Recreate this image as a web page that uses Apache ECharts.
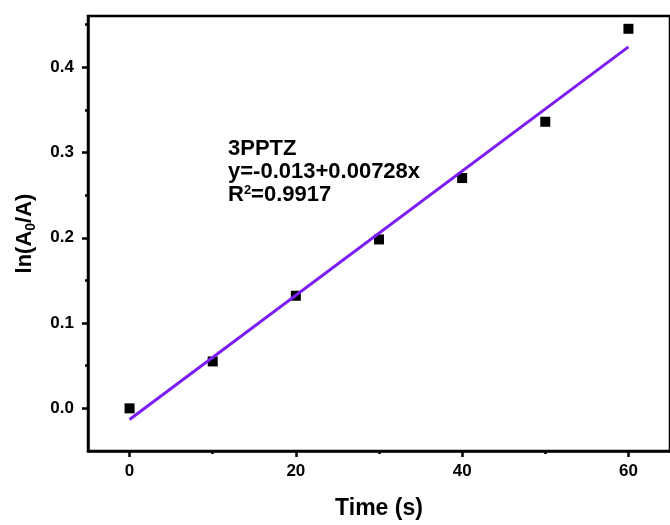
<!DOCTYPE html>
<html>
<head>
<meta charset="utf-8">
<script src="https://cdn.jsdelivr.net/npm/echarts@6/dist/echarts.min.js"></script>
<style>html,body{margin:0;padding:0;background:#fff}#c{width:670px;height:525px}</style>
</head>
<body>
<div id="c"></div>
<script>
// Data
var timeS = [0, 10, 20, 30, 40, 50, 60];
var lnA0A = [0.0, 0.055, 0.132, 0.198, 0.270, 0.336, 0.445];
// Linear fit y = -0.013 + 0.00728x, endpoints
var fitX = [0, 60];
var fitY = [-0.013, 0.4238];
// Tick values
var xMajor = [0, 20, 40, 60];
var xMinor = [10, 30, 50];
var yMajor = [0.0, 0.1, 0.2, 0.3, 0.4];
var yMinor = [0.05, 0.15, 0.25, 0.35, 0.45];
var annotLines = ['3PPTZ', 'y=-0.013+0.00728x', 'R{sup|2}=0.9917'];

var FONT = '"Liberation Sans", Arial, sans-serif';
var xMin = -5, xMax = 65, yMin = -0.05, yMax = 0.46;

var chart = echarts.init(document.getElementById('c'), null, {renderer: 'canvas'});

function pairs(xs, ys) { return xs.map(function (x, i) { return [x, ys[i]]; }); }

var axisLineStyle = {color: '#000', width: 2.5};

chart.setOption({
  animation: false,
  backgroundColor: '#fff',
  grid: {left: 88, top: 16, right: -12, bottom: 74, show: true, borderColor: '#000', borderWidth: 2.5, containLabel: false},
  xAxis: [{
    type: 'value', min: xMin, max: xMax, position: 'bottom',
    axisLine: {show: true, onZero: false, lineStyle: axisLineStyle},
    axisTick: {show: true, inside: false, length: 6, lineStyle: {color: '#000', width: 2.5}, customValues: xMajor},
    axisLabel: {show: true, customValues: xMajor, margin: 12, color: '#000', fontFamily: FONT, fontWeight: 'bold', fontSize: 17},
    splitLine: {show: false},
    name: 'Time (s)', nameLocation: 'middle', nameGap: 46,
    nameTextStyle: {color: '#000', fontFamily: FONT, fontWeight: 'bold', fontSize: 23}
  }, {
    type: 'value', min: xMin, max: xMax, position: 'bottom',
    axisLine: {show: false, onZero: false},
    axisTick: {show: true, inside: false, length: 3, lineStyle: {color: '#000', width: 2.5}, customValues: xMinor},
    axisLabel: {show: false},
    splitLine: {show: false}
  }],
  yAxis: [{
    type: 'value', min: yMin, max: yMax, position: 'left',
    axisLine: {show: true, onZero: false, lineStyle: axisLineStyle},
    axisTick: {show: true, inside: false, length: 6, lineStyle: {color: '#000', width: 2.5}, customValues: yMajor},
    axisLabel: {show: true, customValues: yMajor, margin: 14, color: '#000', fontFamily: FONT, fontWeight: 'bold', fontSize: 17,
      formatter: function (v) { return v.toFixed(1); }},
    splitLine: {show: false},
    name: 'ln(A{sub|0}/A)', nameLocation: 'middle', nameGap: 50, nameRotate: 90,
    nameTextStyle: {color: '#000', fontFamily: FONT, fontWeight: 'bold', fontSize: 22, lineHeight: 26,
      rich: {sub: {fontFamily: FONT, fontWeight: 'bold', fontSize: 14, lineHeight: 26, verticalAlign: 'bottom', color: '#000'}}}
  }, {
    type: 'value', min: yMin, max: yMax, position: 'left',
    axisLine: {show: false, onZero: false},
    axisTick: {show: true, inside: false, length: 3, lineStyle: {color: '#000', width: 2.5}, customValues: yMinor},
    axisLabel: {show: false},
    splitLine: {show: false}
  }],
  graphic: annotLines.map(function (t, i) {
    return {
      type: 'text', left: 228, top: 138 + i * 23,
      style: {
        text: t, fill: '#000', font: 'bold 22px ' + FONT,
        rich: {sup: {fontSize: 13, fontWeight: 'bold', fontFamily: FONT, verticalAlign: 'top', fill: '#000', lineHeight: 22}}
      }
    };
  }),
  series: [{
    type: 'scatter', xAxisIndex: 0, yAxisIndex: 0,
    data: pairs(timeS, lnA0A),
    symbol: 'rect', symbolSize: 10,
    itemStyle: {color: '#000', opacity: 1}, z: 2
  }, {
    type: 'line', xAxisIndex: 0, yAxisIndex: 0,
    data: pairs(fitX, fitY),
    symbol: 'none', lineStyle: {color: '#7d1df5', width: 3}, z: 3
  }]
});
</script>
</body>
</html>
